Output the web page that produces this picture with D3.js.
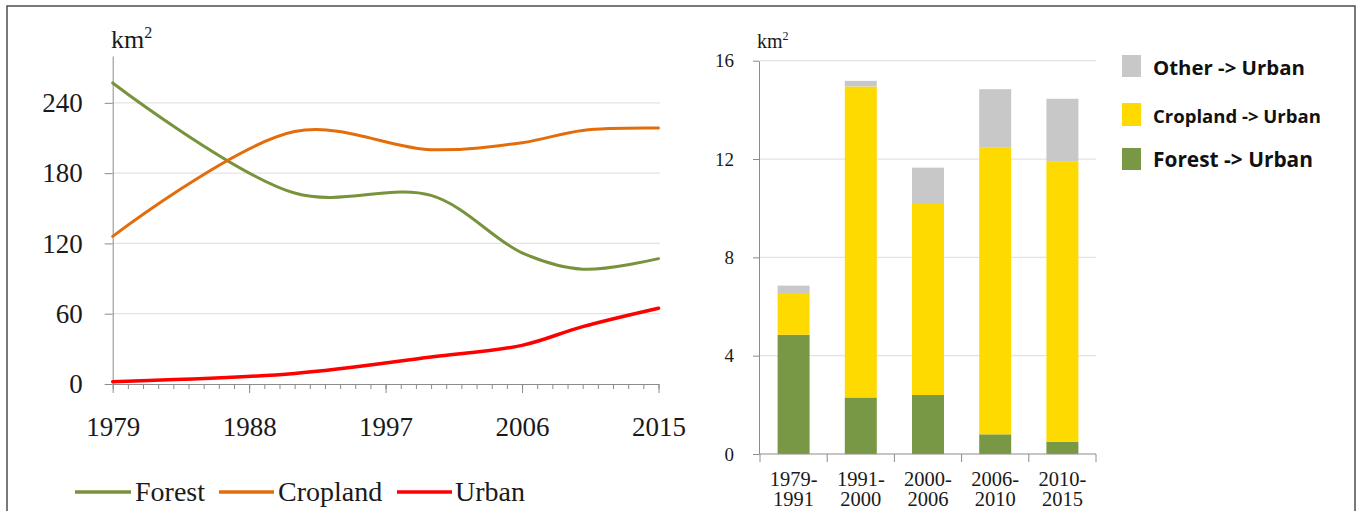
<!DOCTYPE html>
<html>
<head>
<meta charset="utf-8">
<script src="https://cdn.jsdelivr.net/npm/d3@7"></script>
<style>
  html, body { margin: 0; padding: 0; background: #fff; }
  svg { display: block; }
</style>
</head>
<body>
<svg id="chart" width="1357" height="511"></svg>
<script>
// ---------------- Data ----------------
const years = [1979, 1991, 2000, 2006, 2010, 2015];
const forestArea = [257, 163, 161, 112, 98, 107];
const croplandArea = [126, 215.5, 200, 206, 216.5, 218.5];
const urbanArea = [2, 9, 23, 33, 49, 64.7];
const lineSeries = ["Forest", "Cropland", "Urban"];
const leftYTicks = [0, 60, 120, 180, 240];
const leftXTicks = [1979, 1988, 1997, 2006, 2015];

const periods = [["1979-", "1991"], ["1991-", "2000"], ["2000-", "2006"], ["2006-", "2010"], ["2010-", "2015"]];
const forestToUrban = [4.85, 2.3, 2.4, 0.8, 0.5];
const croplandToUrban = [1.7, 12.65, 7.77, 11.66, 11.39];
const otherToUrban = [0.3, 0.23, 1.48, 2.38, 2.56];
const barKeys = ["Forest -> Urban", "Cropland -> Urban", "Other -> Urban"];
const rightYTicks = [0, 4, 8, 12, 16];

// ---------------- Setup ----------------
const svg = d3.select("#chart");
const serif = "'Liberation Serif', 'Times New Roman', serif";
const textColor = "#1a1a1a";
const axisColor = "#8c8c8c";
const gridColor = "#e3e3e3";
const lineColors = { Forest: "#77933c", Cropland: "#e46c0a", Urban: "#ff0000" };
const barColors = { "Forest -> Urban": "#789846", "Cropland -> Urban": "#ffda00", "Other -> Urban": "#c8c8c8" };

// outer frame
svg.append("rect").attr("x", 7).attr("y", 6).attr("width", 1348).attr("height", 530)
  .attr("fill", "none").attr("stroke", "#4d4d4d").attr("stroke-width", 1.5);

// ================= LEFT: line chart =================
const xL = d3.scaleLinear().domain([1979, 2015]).range([112.7, 658.5]);
const yL = d3.scaleLinear().domain([0, 280]).range([384, 56]);

const gL = svg.append("g");
// grid
gL.append("g").selectAll("line").data(leftYTicks.filter(d => d > 0)).join("line")
  .attr("x1", xL(1979)).attr("x2", 660)
  .attr("y1", d => yL(d)).attr("y2", d => yL(d))
  .attr("stroke", gridColor).attr("stroke-width", 1.3);

// y axis
const yAxisL = gL.append("g").attr("transform", `translate(${xL(1979)},0)`)
  .call(d3.axisLeft(yL).tickValues(leftYTicks).tickSize(8).tickSizeOuter(0).tickPadding(22));
yAxisL.select(".domain").attr("stroke", axisColor);
yAxisL.selectAll(".tick line").attr("stroke", axisColor);
yAxisL.selectAll("text").attr("font-family", serif).attr("font-size", 27).attr("fill", textColor);

// x axis minor ticks (every year)
const allYears = d3.range(1979, 2016);
const xMinor = gL.append("g").attr("transform", `translate(0,${yL(0)})`)
  .call(d3.axisBottom(xL).tickValues(allYears).tickSize(5).tickSizeOuter(0).tickFormat(""));
xMinor.select(".domain").attr("stroke", axisColor);
xMinor.selectAll(".tick line").attr("stroke", axisColor);
// x axis major ticks + labels
const xMajor = gL.append("g").attr("transform", `translate(0,${yL(0)})`)
  .call(d3.axisBottom(xL).tickValues(leftXTicks).tickSize(9).tickSizeOuter(0).tickPadding(24).tickFormat(d3.format("d")));
xMajor.select(".domain").remove();
xMajor.selectAll(".tick line").attr("stroke", axisColor);
xMajor.selectAll("text").attr("font-family", serif).attr("font-size", 27).attr("fill", textColor);

// unit label
const kmL = gL.append("text").attr("x", 111).attr("y", 48)
  .attr("font-family", serif).attr("font-size", 26).attr("fill", textColor);
kmL.append("tspan").text("km");
kmL.append("tspan").attr("dy", -10).attr("font-size", 16).text("2");

// lines
const seriesData = {
  Forest: years.map((y, i) => [y, forestArea[i]]),
  Cropland: years.map((y, i) => [y, croplandArea[i]]),
  Urban: years.map((y, i) => [y, urbanArea[i]])
};
const lineGen = d3.line().x(d => xL(d[0])).y(d => yL(d[1])).curve(d3.curveCatmullRom.alpha(0.5));
lineSeries.forEach(s => {
  gL.append("path").datum(seriesData[s]).attr("d", lineGen)
    .attr("fill", "none").attr("stroke", lineColors[s])
    .attr("stroke-width", s === "Urban" ? 3.5 : 3).attr("stroke-linecap", "round");
});

// legend
const legL = [
  { name: "Forest", x1: 75, x2: 131, tx: 135 },
  { name: "Cropland", x1: 219, x2: 274, tx: 278 },
  { name: "Urban", x1: 397, x2: 452, tx: 455 }
];
legL.forEach(l => {
  gL.append("line").attr("x1", l.x1).attr("x2", l.x2).attr("y1", 492).attr("y2", 492)
    .attr("stroke", lineColors[l.name]).attr("stroke-width", 3.5);
  gL.append("text").attr("x", l.tx).attr("y", 501).text(l.name)
    .attr("font-family", serif).attr("font-size", 28).attr("fill", textColor);
});

// ================= RIGHT: stacked bars =================
const xR = d3.scaleBand().domain(periods.map(p => p.join(""))).range([760, 1096])
  .paddingInner(0.524).paddingOuter(0.262);
const yR = d3.scaleLinear().domain([0, 16]).range([454, 60.7]);
const gR = svg.append("g");

gR.append("g").selectAll("line").data(rightYTicks.filter(d => d > 0)).join("line")
  .attr("x1", 760).attr("x2", 1096)
  .attr("y1", d => yR(d)).attr("y2", d => yR(d))
  .attr("stroke", gridColor).attr("stroke-width", 1.3);

const yAxisR = gR.append("g").attr("transform", "translate(759,0)")
  .call(d3.axisLeft(yR).tickValues(rightYTicks).tickSize(6).tickSizeOuter(0).tickPadding(19));
yAxisR.select(".domain").attr("stroke", axisColor);
yAxisR.selectAll(".tick line").attr("stroke", axisColor);
yAxisR.selectAll("text").attr("font-family", serif).attr("font-size", 19).attr("fill", textColor);

const kmR = gR.append("text").attr("x", 757).attr("y", 48)
  .attr("font-family", serif).attr("font-size", 20).attr("fill", textColor);
kmR.append("tspan").text("km");
kmR.append("tspan").attr("dy", -8).attr("font-size", 12).text("2");

// stacked data
const barRows = periods.map((p, i) => ({
  cat: p.join(""),
  "Forest -> Urban": forestToUrban[i],
  "Cropland -> Urban": croplandToUrban[i],
  "Other -> Urban": otherToUrban[i]
}));
const stacked = d3.stack().keys(barKeys)(barRows);
gR.append("g").selectAll("g").data(stacked).join("g")
  .attr("fill", d => barColors[d.key])
  .selectAll("rect").data(d => d).join("rect")
  .attr("x", d => xR(d.data.cat))
  .attr("width", xR.bandwidth())
  .attr("y", d => yR(d[1]))
  .attr("height", d => yR(d[0]) - yR(d[1]));

// x axis (category boundaries)
const bounds = d3.range(periods.length + 1).map(i => xR.range()[0] + i * xR.step());
gR.append("line").attr("x1", 760).attr("x2", 1096).attr("y1", yR(0)).attr("y2", yR(0))
  .attr("stroke", axisColor);
gR.append("g").selectAll("line").data(bounds).join("line")
  .attr("x1", d => d).attr("x2", d => d).attr("y1", yR(0)).attr("y2", yR(0) + 8)
  .attr("stroke", axisColor);
const catLabels = gR.append("g").selectAll("text").data(periods).join("text")
  .attr("x", p => xR(p.join("")) + xR.bandwidth() / 2)
  .attr("text-anchor", "middle")
  .attr("font-family", serif).attr("font-size", 20.5).attr("fill", textColor);
catLabels.append("tspan").attr("x", p => xR(p.join("")) + xR.bandwidth() / 2).attr("y", 486).text(p => p[0]);
catLabels.append("tspan").attr("x", p => xR(p.join("")) + xR.bandwidth() / 2).attr("y", 506).text(p => p[1]);

// right legend
const legR = [
  { key: "Other -> Urban", y: 55, h: 22, ty: 68, w: 152 },
  { key: "Cropland -> Urban", y: 103, h: 23, ty: 117, w: 168 },
  { key: "Forest -> Urban", y: 148, h: 22, ty: 160, w: 160 }
];
const sans = "'Open Sans', 'Lato', sans-serif";
legR.forEach(l => {
  gR.append("rect").attr("x", 1122).attr("y", l.y).attr("width", 19).attr("height", l.h)
    .attr("fill", barColors[l.key]);
  const t = gR.append("text").attr("x", 1153).attr("y", l.ty).attr("dy", "0.35em")
    .attr("font-family", sans).attr("font-weight", 700).attr("font-size", 20)
    .attr("fill", "#111").text(l.key);
  const len = t.node().getComputedTextLength();
  t.attr("font-size", 20 * l.w / len);
});
</script>
</body>
</html>
